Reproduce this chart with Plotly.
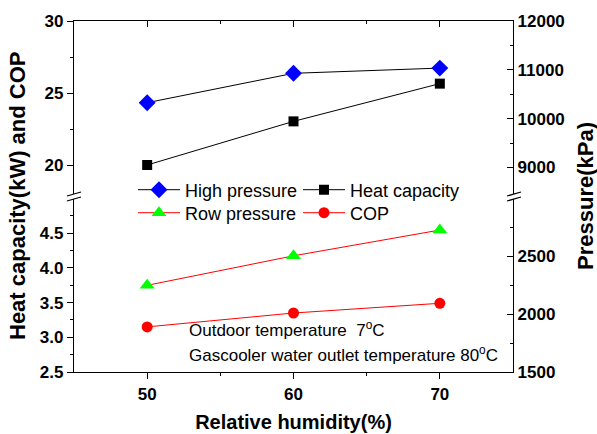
import plotly.graph_objects as go

humidity = [50, 60, 70]
heat_capacity = [20.0, 23.03, 25.65]
high_pressure = [10326, 10928, 11035]
row_pressure = [2250, 2505, 2728]
cop = [3.15, 3.35, 3.49]

FONT = "Liberation Sans"
L, R, T, B = 74, 84, 21, 62
W, H = 597, 434
PW, PH = W - L - R, H - T - B


def px(x):
    return (x - L) / PW


def py(y):
    return (H - B - y) / PH


fig = go.Figure()

fig.add_trace(go.Scatter(x=humidity, y=high_pressure, name="High pressure", xaxis="x2", yaxis="y4",
                         mode="lines+markers", line=dict(color="black", width=1),
                         marker=dict(symbol="diamond", size=13, color="blue"), legend="legend"))
fig.add_trace(go.Scatter(x=humidity, y=heat_capacity, name="Heat capacity", xaxis="x2", yaxis="y3",
                         mode="lines+markers", line=dict(color="black", width=1),
                         marker=dict(symbol="square", size=10, color="black"), legend="legend2"))
fig.add_trace(go.Scatter(x=humidity, y=row_pressure, name="Row pressure", xaxis="x", yaxis="y2",
                         mode="lines+markers", line=dict(color="red", width=1),
                         marker=dict(symbol="triangle-up", size=13, color="#00ff00"), legend="legend3"))
fig.add_trace(go.Scatter(x=humidity, y=cop, name="COP", xaxis="x", yaxis="y",
                         mode="lines+markers", line=dict(color="red", width=1),
                         marker=dict(symbol="circle", size=11, color="red"), legend="legend4"))

up_lo = py(194)
lo_hi = py(199)

tickfont = dict(family=FONT, size=17, color="black", weight="bold")
axcommon = dict(showgrid=False, zeroline=False, showline=True, linecolor="black", linewidth=1.3,
                tickcolor="black", tickwidth=1.3, ticklen=6, tickfont=tickfont)


def minor(vals, side):
    return dict(tickvals=vals, ticks=side, ticklen=3, tickcolor="black", tickwidth=1.3)


def leg(xp, yp):
    return dict(x=px(xp), y=py(yp), xanchor="left", yanchor="middle", bgcolor="rgba(0,0,0,0)",
                font=dict(family=FONT, size=18, color="black"), itemwidth=42)


fig.update_layout(
    width=W, height=H, margin=dict(l=L, r=R, t=T, b=B, autoexpand=False),
    plot_bgcolor="white", paper_bgcolor="white",
    font=dict(family=FONT, color="black"),
    xaxis=dict(axcommon, range=[45, 75], tickmode="array", tickvals=[50, 60, 70], ticks="outside",
               anchor="y", domain=[0, 1], minor=minor([55, 65], "outside"),
               title=dict(text="<b>Relative humidity(%)</b>", font=dict(family=FONT, size=20), standoff=12)),
    xaxis2=dict(axcommon, matches="x", range=[45, 75], anchor="y3", side="top", showticklabels=False,
                tickmode="array", tickvals=[50, 60, 70], ticks="inside", minor=minor([55, 65], "inside")),
    yaxis=dict(axcommon, domain=[0, lo_hi], range=[2.5, 2.5 + 173 / 69.4], anchor="x",
               tickmode="array", tickvals=[2.5, 3.0, 3.5, 4.0, 4.5], ticktext=["2.5", "3.0", "3.5", "4.0", "4.5"],
               ticks="outside", minor=minor([2.75, 3.25, 3.75, 4.25, 4.75], "outside")),
    yaxis2=dict(axcommon, overlaying="y", side="right", anchor="x", range=[1500, 1500 + 173 / 115.6 * 1000],
                tickmode="array", tickvals=[1500, 2000, 2500], ticktext=["1500", "2000", "2500"],
                ticks="inside", minor=minor([1750, 2250, 2750], "inside")),
    yaxis3=dict(axcommon, domain=[up_lo, 1], range=[30 - 173 / 72 * 5, 30], anchor="x2",
                tickmode="array", tickvals=[20, 25, 30], ticktext=["20", "25", "30"], ticks="outside",
                minor=minor([22.5, 27.5], "outside")),
    yaxis4=dict(axcommon, overlaying="y3", side="right", anchor="x2", range=[12000 - 173 / 48.8 * 1000, 12000],
                tickmode="array", tickvals=[9000, 10000, 11000, 12000],
                ticktext=["9000", "10000", "11000", "12000"], ticks="inside",
                minor=minor([9500, 10500, 11500], "inside")),
    legend=leg(133, 190),
    legend2=leg(298, 190),
    legend3=leg(133, 213),
    legend4=leg(298, 213),
    showlegend=True,
)

ann_font = dict(family=FONT, size=17, color="black")
fig.add_annotation(text="<b>Heat capacity(kW) and COP</b>", xref="paper", yref="paper",
                   x=px(17), y=py(196), textangle=-90, showarrow=False,
                   font=dict(family=FONT, size=22, color="black"), xanchor="center", yanchor="middle")
fig.add_annotation(text="<b>Pressure(kPa)</b>", xref="paper", yref="paper",
                   x=px(585), y=py(196), textangle=-90, showarrow=False,
                   font=dict(family=FONT, size=22, color="black"), xanchor="center", yanchor="middle")
fig.add_annotation(text="Outdoor temperature  7<sup>o</sup>C", xref="paper", yref="paper",
                   x=px(187), y=py(329), showarrow=False, font=ann_font, xanchor="left", yanchor="middle")
fig.add_annotation(text="Gascooler water outlet temperature 80<sup>o</sup>C", xref="paper", yref="paper",
                   x=px(187), y=py(354), showarrow=False, font=ann_font, xanchor="left", yanchor="middle")

# axis break marks
for x0 in (67, 507):
    for dy in (0, 5):
        fig.add_shape(type="line", xref="paper", yref="paper",
                      x0=px(x0), y0=py(196 + dy), x1=px(x0 + 14), y1=py(192 + dy),
                      line=dict(color="black", width=1.3))

fig.write_html("out.html")
